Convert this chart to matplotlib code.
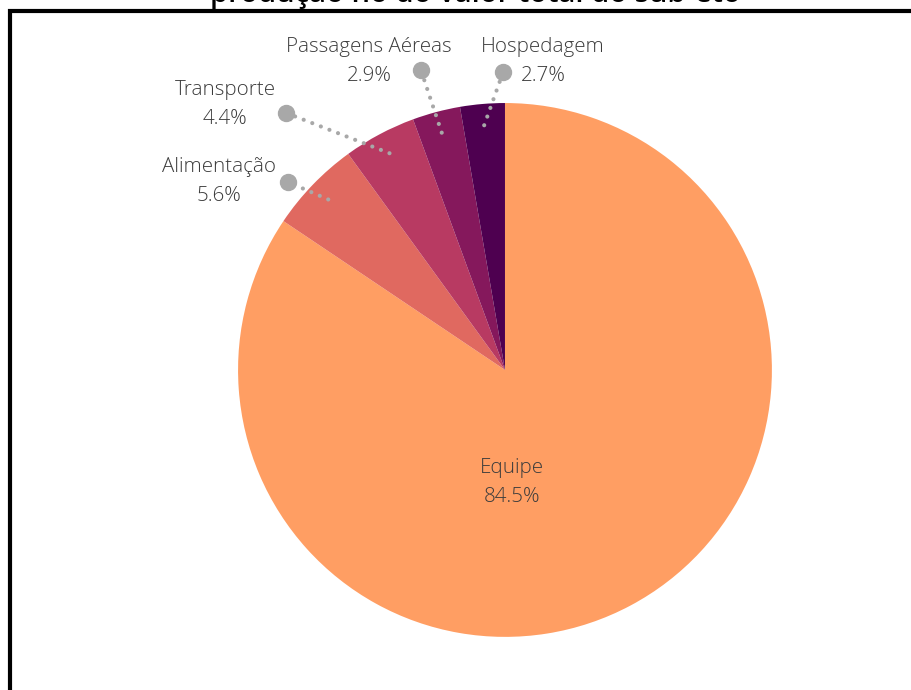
import numpy as np
import matplotlib.pyplot as plt
from matplotlib.patches import Rectangle

categorias = ['Equipe', 'Alimentação', 'Transporte', 'Passagens Aéreas', 'Hospedagem']
percentuais = [84.5, 5.6, 4.4, 2.9, 2.7]
cores = ['#FF9E63', '#E06960', '#B83A62', '#85185C', '#4E0050']
titulo = 'produção no do valor total do sub-eto'

plt.rcParams['font.family'] = ['Open Sans', 'DejaVu Sans']
cor_texto = '#3c3c3c'
cinza = '#A8A8A8'
fs = 14.8
passo = 0.109  # distância entre nome e percentual

fig = plt.figure(figsize=(9.12, 6.9), dpi=100)
ax = fig.add_axes([0, 0, 1, 1])

wedges, _ = ax.pie(percentuais, colors=cores, startangle=90, counterclock=False,
                   radius=1.0, wedgeprops=dict(linewidth=0))
ax.set_xlim(-1.891, 1.524)
ax.set_ylim(-1.199, 1.386)
ax.axis('off')

# Equipe fica dentro da fatia
ax.text(0.026, -0.367, categorias[0], ha='center', va='center', fontsize=fs,
        color=cor_texto, fontweight='light')
ax.text(0.026, -0.367 - passo, f'{percentuais[0]}%', ha='center', va='center',
        fontsize=fs, color=cor_texto, fontweight='light')

# rótulos externos: (posição do ponto, posição do nome)
externos = {
    'Alimentação': ((-0.813, 0.704), (-1.07, 0.760)),
    'Transporte': ((-0.820, 0.963), (-1.049, 1.049)),
    'Passagens Aéreas': ((-0.315, 1.124), (-0.510, 1.210)),
    'Hospedagem': ((-0.007, 1.116), (0.142, 1.210)),
}

for w, nome, pct in zip(wedges[1:], categorias[1:], percentuais[1:]):
    ang = np.deg2rad((w.theta1 + w.theta2) / 2)
    x0, y0 = 0.92 * np.cos(ang), 0.92 * np.sin(ang)
    (xd, yd), (xt, yt) = externos[nome]
    ax.plot([x0, xd], [y0, yd], color=cinza, lw=3, linestyle=(0, (0.01, 2.2)),
            dash_capstyle='round', zorder=3)
    ax.plot(xd, yd, 'o', color=cinza, markersize=11.5, zorder=4)
    ax.text(xt, yt, nome, ha='center', va='center', fontsize=fs,
            color=cor_texto, fontweight='light')
    ax.text(xt, yt - passo, f'{pct}%', ha='center', va='center', fontsize=fs,
            color=cor_texto, fontweight='light')

# título (cortado na parte de cima)
fig.text(0.521, 1 - 2 / 690, titulo, ha='center', va='baseline', fontsize=21,
         fontweight='semibold', color='black')

# moldura
fig.patches.append(Rectangle((10 / 912, -0.1), 1.2, 1 - 11 / 690 + 0.1,
                             transform=fig.transFigure, fill=False,
                             edgecolor='black', linewidth=3))

fig.savefig('out.png', dpi=100)
